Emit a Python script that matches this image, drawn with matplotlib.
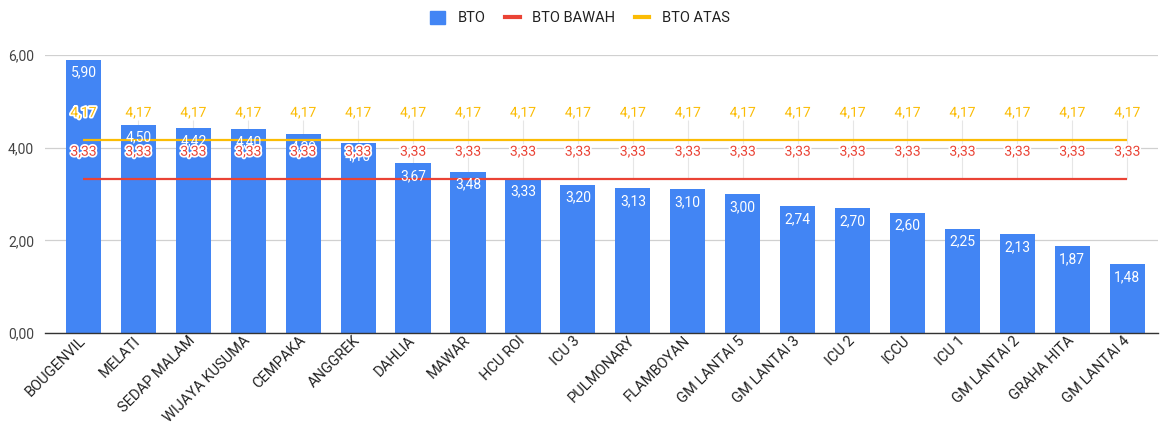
import matplotlib
matplotlib.use("Agg")
import matplotlib.pyplot as plt
from matplotlib.patches import Patch
from matplotlib.lines import Line2D
import matplotlib.patheffects as pe
import matplotlib.transforms as mtransforms

plt.rcParams['font.family'] = ['Roboto', 'DejaVu Sans']

categories = ["BOUGENVIL", "MELATI", "SEDAP MALAM", "WIJAYA KUSUMA", "CEMPAKA",
              "ANGGREK", "DAHLIA", "MAWAR", "HCU ROI", "ICU 3", "PULMONARY",
              "FLAMBOYAN", "GM LANTAI 5", "GM LANTAI 3", "ICU 2", "ICCU", "ICU 1",
              "GM LANTAI 2", "GRAHA HITA", "GM LANTAI 4"]
bto = [5.90, 4.50, 4.42, 4.40, 4.29, 4.10, 3.67, 3.48, 3.33, 3.20, 3.13,
       3.10, 3.00, 2.74, 2.70, 2.60, 2.25, 2.13, 1.87, 1.48]
bto_bawah = [3.33] * 20
bto_atas = [4.17] * 20
y_ticks = [0, 2, 4, 6]

BLUE = "#4285F4"
RED = "#EA4335"
YELLOW = "#FBBC04"

def fmt(v):
    return f"{v:.2f}".replace(".", ",")

W, H = 1160, 432
fig = plt.figure(figsize=(W / 100, H / 100), dpi=100)
left_px, right_px, top_px, bot_px = 45, 1158, 55, 333
ax = fig.add_axes([left_px / W, 1 - bot_px / H, (right_px - left_px) / W, (bot_px - top_px) / H])

x = list(range(len(categories)))
ax.set_xlim(-0.70, len(categories) - 1 + 0.56)
ax.set_ylim(0, 6)

px_per_unit = (bot_px - top_px) / 6.0

# leader lines
lab_off_px = 27
top_leader = [a + (lab_off_px - 7) / px_per_unit for a in bto_atas]
ax.vlines(x, bto_bawah, top_leader, colors="#e6e6e6", lw=0.8, zorder=0.5)

ax.bar(x, bto, width=0.64, color=BLUE, zorder=2)
ax.plot(x, bto_bawah, color=RED, lw=1.6, zorder=3, solid_capstyle="butt")
ax.plot(x, bto_atas, color=YELLOW, lw=1.6, zorder=3, solid_capstyle="butt")

for xi, v in zip(x, bto):
    ax.annotate(fmt(v), (xi, v), xytext=(0, -13 * 0.72), textcoords="offset points",
                ha="center", va="center", color="white", fontsize=10, zorder=4)

halo = [pe.withStroke(linewidth=2.5, foreground="white")]
for xi, v in zip(x, bto_bawah):
    ax.annotate(fmt(v), (xi, v), xytext=(0, lab_off_px * 0.72), textcoords="offset points",
                ha="center", va="center", color=RED, fontsize=10, zorder=5,
                path_effects=halo)
for xi, v in zip(x, bto_atas):
    ax.annotate(fmt(v), (xi, v), xytext=(0, lab_off_px * 0.72), textcoords="offset points",
                ha="center", va="center", color=YELLOW, fontsize=10, zorder=5,
                path_effects=halo)

ax.set_yticks(y_ticks)
ax.set_yticklabels([fmt(t) for t in y_ticks], fontsize=10, color="#444444")
ax.tick_params(axis="y", length=0, pad=8)
ax.grid(axis="y", color="#d0d0d0", lw=0.9, zorder=0)
ax.set_axisbelow(True)
for s in ["top", "right", "left"]:
    ax.spines[s].set_visible(False)
ax.spines["bottom"].set_color("#333333")
ax.spines["bottom"].set_linewidth(1.0)
ax.spines["bottom"].set_zorder(6)

ax.set_xticks(x)
ax.set_xticklabels(categories, rotation=45, ha="right", va="center",
                   rotation_mode="anchor", fontsize=10.5, color="#222222")
offset = mtransforms.ScaledTranslation(10 / 100, -8 / 100, fig.dpi_scale_trans)
for lab in ax.get_xticklabels():
    lab.set_transform(lab.get_transform() + offset)
ax.tick_params(axis="x", length=0, pad=4)

handles = [Patch(facecolor=BLUE, edgecolor=BLUE),
           Line2D([0], [0], color=RED, lw=3),
           Line2D([0], [0], color=YELLOW, lw=3)]
fig.legend(handles, ["BTO", "BTO BAWAH", "BTO ATAS"], loc="center",
           bbox_to_anchor=(0.5, 1 - 18 / H), ncol=3, frameon=False,
           fontsize=10.5, handlelength=1.0, handleheight=1.0, columnspacing=1.35,
           handletextpad=0.85, labelcolor="#222222")

fig.savefig("out.png", dpi=100)
